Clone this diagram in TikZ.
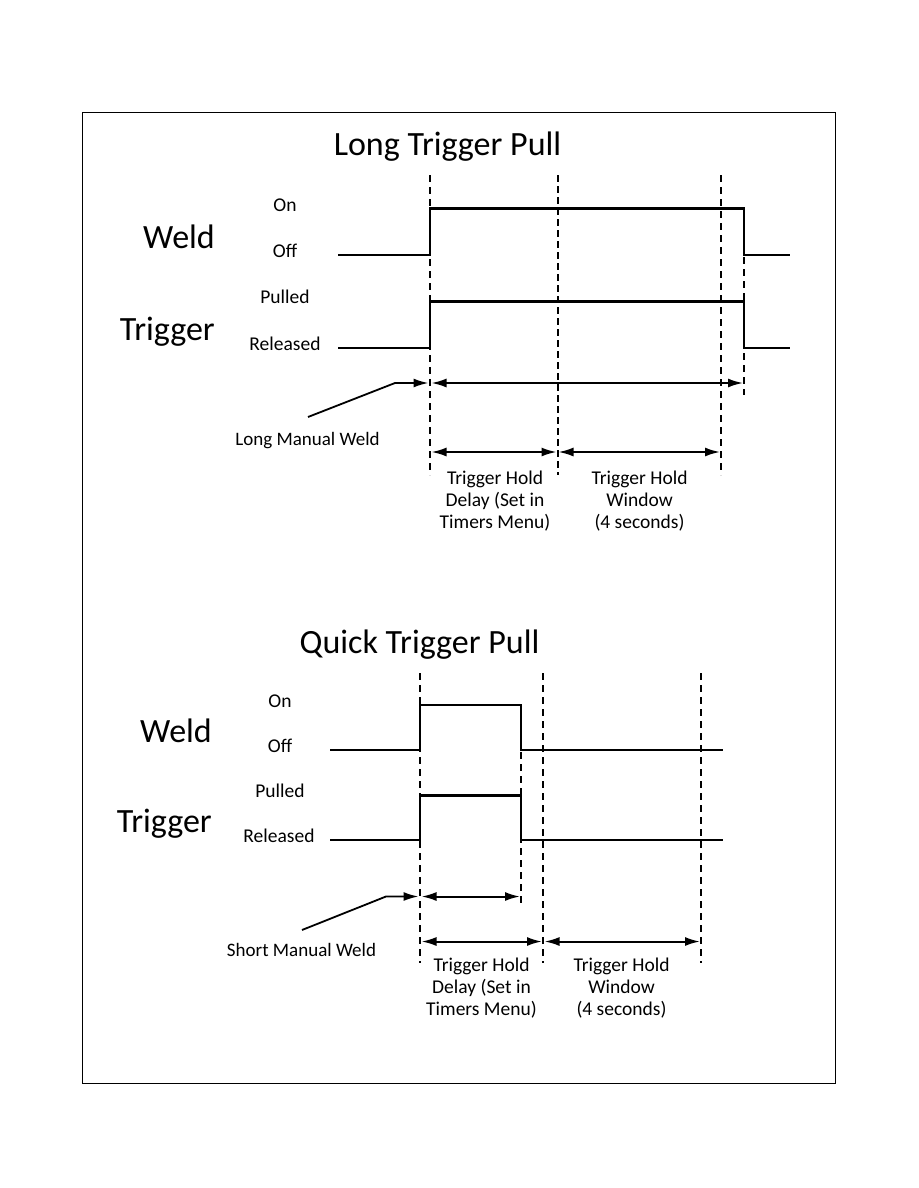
\documentclass[tikz,border=0pt]{standalone}
\usepackage{fontspec}
\setmainfont{Carlito}
\usetikzlibrary{arrows.meta}
\begin{document}
\begin{tikzpicture}[x=1pt,y=-1pt,
  sig/.style={line width=2.6pt, line join=miter},
  guide/.style={line width=1.4pt, dash pattern=on 7pt off 5pt},
  boldguide/.style={line width=2pt, dash pattern=on 7pt off 4pt},
  dimline/.style={line width=2pt, {Latex[length=15pt,width=9pt]}-{Latex[length=15pt,width=9pt]}},
  lead/.style={line width=1.8pt, -{Latex[length=15pt,width=9pt]}},
  ttl/.style={font=\fontsize{34}{40}\selectfont, anchor=base, inner sep=0pt},
  big/.style={font=\fontsize{34}{40}\selectfont, anchor=base east, inner sep=0pt},
  lvl/.style={font=\fontsize{19.5}{22}\selectfont, anchor=base, inner sep=0pt},
  note/.style={font=\fontsize{19.5}{22}\selectfont, align=center, anchor=north, inner sep=0pt},
  lbl/.style={font=\fontsize{19}{22}\selectfont, anchor=base, inner sep=0pt}
]
\useasboundingbox (0,0) rectangle (918,1188);
\draw[line width=1pt] (82,113) rectangle (835,1083);

% ===== Long Trigger Pull =====
\node[ttl] (t1) at (447.5,155) {Long Trigger Pull};
\node[big] (w1) at (215,248) {Weld};
\node[big] (g1) at (215,340) {Trigger};
\node[lvl] (on1) at (285,211) {On};
\node[lvl] (off1) at (285,257) {Off};
\node[lvl] (pu1) at (285,303) {Pulled};
\node[lvl] (re1) at (285,350) {Released};

% guides
\draw[guide] (430,175) coordinate (a1t) -- (430,475) coordinate (a1b);
\draw[boldguide] (557.5,175) coordinate (b1t) -- (557.5,475) coordinate (b1b);
\draw[guide] (721,175) coordinate (c1t) -- (721,475) coordinate (c1b);
\draw[guide] (744,257) coordinate (d1t) -- (744,395) coordinate (d1b);

% signals
\draw[sig] (338,255) -- (430,255) -- (430,208.5) -- (744,208.5) -- (744,255) -- (790,255);
\draw[sig] (338,348) -- (430,348) -- (430,301.5) -- (744,301.5) -- (744,348) -- (790,348);

% arrows
\coordinate (l1a) at (308,417);
\coordinate (l1b) at (395,383);
\coordinate (l1c) at (428.5,383);
\draw[lead] (l1a) -- (l1b) -- (l1c);
\draw[dimline] (431.5,383) -- (743,383);
\draw[dimline] (431.5,452) -- (556.5,452);
\draw[dimline] (558.5,452) -- (720,452);
\node[lbl] (lm) at (307.5,445) {Long Manual Weld};
\node[note] (dl1) at (495,470.5) {Trigger Hold\\Delay (Set in\\Timers Menu)};
\node[note] (wn1) at (639.5,470.5) {Trigger Hold\\Window\\(4 seconds)};

% ===== Quick Trigger Pull =====
\node[ttl] (t2) at (419.5,653) {Quick Trigger Pull};
\node[big] (w2) at (212,742) {Weld};
\node[big] (g2) at (212,832) {Trigger};
\node[lvl] (on2) at (280,707) {On};
\node[lvl] (off2) at (280,752) {Off};
\node[lvl] (pu2) at (280,797) {Pulled};
\node[lvl] (re2) at (279,842) {Released};

\draw[guide] (420,673) coordinate (a2t) -- (420,963) coordinate (a2b);
\draw[guide] (543,673) coordinate (b2t) -- (543,963) coordinate (b2b);
\draw[guide] (701,673) coordinate (c2t) -- (701,963) coordinate (c2b);
\draw[guide] (521,752) coordinate (d2t) -- (521,907) coordinate (d2b);

\draw[sig] (330,750) -- (420,750) -- (420,705) -- (521,705) -- (521,750) -- (723,750);
\draw[sig] (330,840) -- (420,840) -- (420,795.5) -- (521,795.5) -- (521,840) -- (723,840);

\coordinate (l2a) at (302,930);
\coordinate (l2b) at (386,896.5);
\coordinate (l2c) at (418.5,896.5);
\draw[lead] (l2a) -- (l2b) -- (l2c);
\draw[dimline] (421.5,896.5) -- (520,896.5);
\draw[dimline] (421.5,941.5) -- (542,941.5);
\draw[dimline] (544.5,941.5) -- (700,941.5);
\node[lbl] (sm) at (301.5,956) {Short Manual Weld};
\node[note] (dl2) at (481.5,957.5) {Trigger Hold\\Delay (Set in\\Timers Menu)};
\node[note] (wn2) at (621.5,957.5) {Trigger Hold\\Window\\(4 seconds)};
\end{tikzpicture}
\end{document}
